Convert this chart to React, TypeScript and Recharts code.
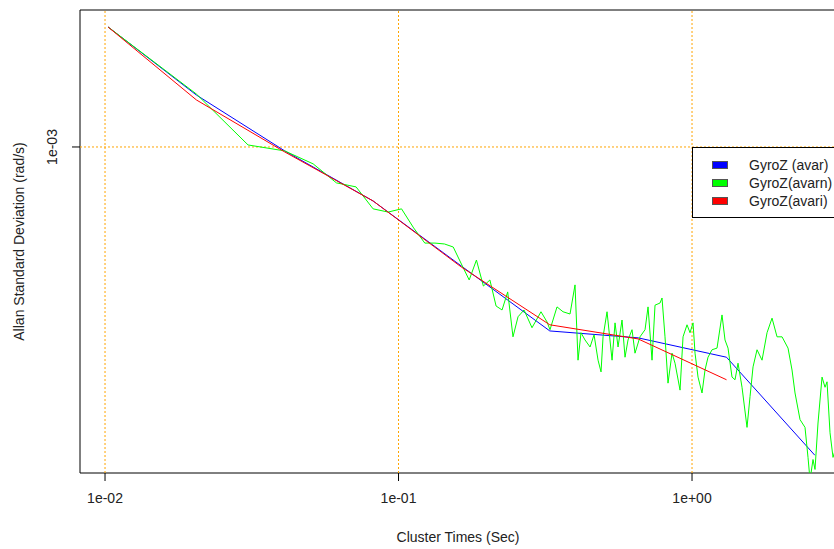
import { Label, Line, LineChart, ReferenceArea, ReferenceLine, XAxis, YAxis } from "recharts";

// cluster times (s) and Allan deviation, deviation given in 1e-3 rad/s
const octaveTau = [0.01024, 0.02048, 0.04096, 0.08192, 0.16384, 0.32768, 0.65536, 1.31072, 2.62144];
const avarSigma = [2.031, 1.359, 0.977, 0.727, 0.495, 0.3375, 0.324, 0.289, 0.162];
const avariSigma = [2.031, 1.32, 0.971, 0.727, 0.492, 0.35, 0.322, 0.253];

const avarnTau = [
  0.01024, 0.02048, 0.03072, 0.04096, 0.0512, 0.06144, 0.07168, 0.08192, 0.09216, 0.1024,
  0.1126, 0.1229, 0.1331, 0.1434, 0.1536, 0.1638, 0.1741, 0.1843, 0.1946, 0.2048,
  0.215, 0.2253, 0.2355, 0.2455, 0.2554, 0.2677, 0.285, 0.3058, 0.3206, 0.3282,
  0.3468, 0.3635, 0.384, 0.3994, 0.4089, 0.4186, 0.432, 0.4494, 0.4637, 0.4785,
  0.4898, 0.4976, 0.5134, 0.534, 0.5467, 0.5597, 0.5775, 0.5912, 0.6053, 0.6246,
  0.6394, 0.665, 0.6917, 0.7082, 0.7307, 0.7481, 0.778, 0.7903, 0.8091, 0.8283,
  0.8548, 0.8752, 0.9103, 0.932, 0.9616, 0.9845, 1.0079, 1.024, 1.0484, 1.0817,
  1.1074, 1.1337, 1.17, 1.2167, 1.2653, 1.2954, 1.3264, 1.3687, 1.4013, 1.4346,
  1.4805, 1.5397, 1.5763, 1.6141, 1.6655, 1.7321, 1.8014, 1.8735, 1.9484, 2.0265,
  2.1238, 2.1914, 2.2438, 2.3335, 2.4266, 2.4844, 2.5238, 2.5836, 2.6245, 2.687,
  2.7733, 2.8395, 2.884, 2.9526, 3.023, 3.1438,
];
const avarnSigma = [
  2.031, 1.367, 1.012, 0.977, 0.905, 0.809, 0.79, 0.694, 0.681, 0.694,
  0.62, 0.567, 0.567, 0.564, 0.554, 0.501, 0.456, 0.513, 0.44, 0.456,
  0.391, 0.382, 0.425, 0.326, 0.367, 0.382, 0.344, 0.378, 0.356, 0.34,
  0.389, 0.378, 0.373, 0.443, 0.284, 0.334, 0.32, 0.307, 0.33, 0.284,
  0.265, 0.326, 0.378, 0.284, 0.354, 0.307, 0.36, 0.289, 0.32, 0.34,
  0.296, 0.326, 0.34, 0.389, 0.284, 0.393, 0.398, 0.41, 0.326, 0.248,
  0.296, 0.279, 0.238, 0.326, 0.35, 0.334, 0.354, 0.296, 0.257, 0.234,
  0.268, 0.289, 0.302, 0.305, 0.371, 0.32, 0.305, 0.257, 0.253, 0.279,
  0.242, 0.191, 0.229, 0.273, 0.302, 0.284, 0.334, 0.364, 0.326, 0.326,
  0.305, 0.268, 0.234, 0.2, 0.191, 0.16, 0.14, 0.158, 0.149, 0.196,
  0.257, 0.242, 0.25, 0.185, 0.16, 0.177,
];

const xTicks = [0.01, 0.1, 1];
const yTicks = [0.001];
const xDomain = [0.008218, 3.0944];
const yDomain = [1.459e-4, 2.245e-3];

const series = [
  { name: "GyroZ (avar)", color: "#0000ff" },
  { name: "GyroZ(avarn)", color: "#00ff00" },
  { name: "GyroZ(avari)", color: "#ff0000" },
];

const toRows = (taus: number[], sig: number[]) =>
  sig.map((s, i) => ({ tau: taus[i], sigma: s * 1e-3 }));

const avarData = toRows(octaveTau, avarSigma);
const avariData = toRows(octaveTau, avariSigma);
const avarnData = toRows(avarnTau, avarnSigma);

const FONT = "'Liberation Sans', Arial, Helvetica, sans-serif";
const TEXT = "#222";

// R style exponent labels: 1e-02, 1e+00
function fmtExp(v: number) {
  const e = Math.round(Math.log10(v));
  const sign = e < 0 ? "-" : "+";
  return `1e${sign}${String(Math.abs(e)).padStart(2, "0")}`;
}

function YTick(props: any) {
  const { x, y, payload } = props;
  const cx = x - 18;
  return (
    <text
      x={cx}
      y={y}
      transform={`rotate(-90 ${cx} ${y})`}
      textAnchor="middle"
      dominantBaseline="central"
      fill={TEXT}
      fontSize={14}
      fontFamily={FONT}
    >
      {fmtExp(payload.value)}
    </text>
  );
}

function YTitle(props: any) {
  const vb = props.viewBox;
  const cx = vb.x + 19;
  const cy = vb.y + vb.height / 2;
  return (
    <text
      x={cx}
      y={cy}
      transform={`rotate(-90 ${cx} ${cy})`}
      textAnchor="middle"
      dominantBaseline="central"
      fill={TEXT}
      fontSize={14}
      fontFamily={FONT}
    >
      Allan Standard Deviation (rad/s)
    </text>
  );
}

export default function App() {
  return (
    <div
      style={{
        position: "absolute",
        left: 0,
        top: 0,
        width: 834,
        height: 549,
        overflow: "hidden",
        background: "#fff",
        fontFamily: FONT,
      }}
    >
      <LineChart width={840} height={549} margin={{ top: 10, right: 4, bottom: 0, left: 0 }}>
        <XAxis
          type="number"
          dataKey="tau"
          scale="log"
          domain={xDomain}
          allowDataOverflow
          ticks={xTicks}
          tickFormatter={fmtExp}
          height={76}
          tickSize={8}
          tickMargin={12}
          axisLine={false}
          tickLine={{ stroke: "#000" }}
          tick={{ fill: TEXT, fontSize: 14, fontFamily: FONT }}
        >
          <Label
            value="Cluster Times (Sec)"
            position="insideBottom"
            offset={7}
            fill={TEXT}
            fontSize={14}
            fontFamily={FONT}
          />
        </XAxis>
        <YAxis
          type="number"
          dataKey="sigma"
          scale="log"
          domain={yDomain}
          allowDataOverflow
          ticks={yTicks}
          width={80}
          tickSize={8}
          axisLine={false}
          tickLine={{ stroke: "#000" }}
          tick={<YTick />}
        >
          <Label content={<YTitle />} />
        </YAxis>

        {xTicks.map((t) => (
          <ReferenceLine key={t} x={t} stroke="#ffa500" strokeDasharray="2 2" />
        ))}
        {yTicks.map((t) => (
          <ReferenceLine key={t} y={t} stroke="#ffa500" strokeDasharray="2 2" />
        ))}

        <Line
          data={avarData}
          dataKey="sigma"
          name={series[0].name}
          stroke={series[0].color}
          strokeWidth={1}
          dot={false}
          isAnimationActive={false}
        />
        <Line
          data={avarnData}
          dataKey="sigma"
          name={series[1].name}
          stroke={series[1].color}
          strokeWidth={1}
          dot={false}
          isAnimationActive={false}
        />
        <Line
          data={avariData}
          dataKey="sigma"
          name={series[2].name}
          stroke={series[2].color}
          strokeWidth={1}
          dot={false}
          isAnimationActive={false}
        />

        <ReferenceArea
          x1={xDomain[0]}
          x2={xDomain[1]}
          y1={yDomain[0]}
          y2={yDomain[1]}
          fill="none"
          stroke="#000"
          strokeWidth={1}
          ifOverflow="visible"
        />
      </LineChart>

      <div
        style={{
          position: "absolute",
          left: 692,
          top: 147,
          width: 160,
          height: 71,
          border: "1px solid #000",
          background: "#fff",
          boxSizing: "border-box",
        }}
      >
        {series.map((s, i) => (
          <div
            key={s.name}
            style={{
              position: "absolute",
              left: 19,
              top: 17 + i * 18 - 9,
              height: 18,
              display: "flex",
              alignItems: "center",
              whiteSpace: "nowrap",
            }}
          >
            <span
              style={{
                display: "inline-block",
                width: 16,
                height: 8,
                background: s.color,
                border: "1px solid #555",
                boxSizing: "border-box",
              }}
            />
            <span style={{ marginLeft: 21, fontSize: 14, color: TEXT }}>{s.name}</span>
          </div>
        ))}
      </div>
    </div>
  );
}
